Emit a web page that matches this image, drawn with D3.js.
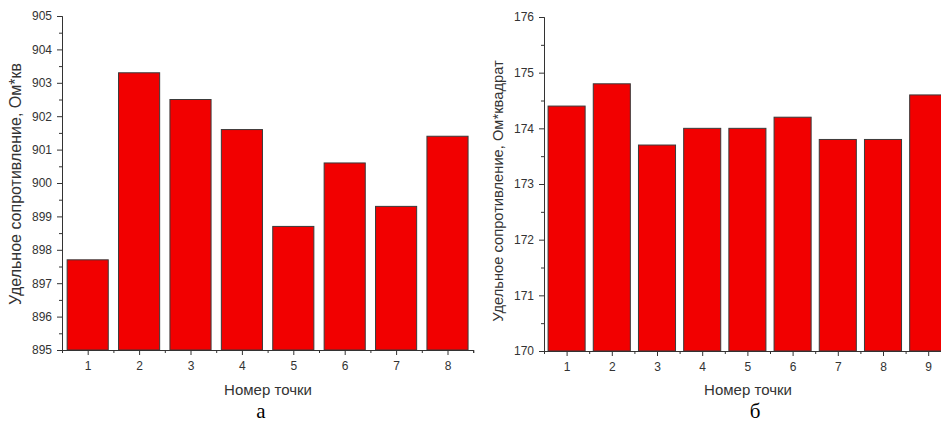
<!DOCTYPE html>
<html>
<head>
<meta charset="utf-8">
<script src="https://cdn.jsdelivr.net/npm/d3@7"></script>
<style>
  body { margin: 0; background: #fff; }
  svg { display: block; font-family: Arial, "Liberation Sans", sans-serif; }
  .axis text { fill: #333; font-size: 12px; }
  .axis path, .axis line { stroke: #333; }
</style>
</head>
<body>
<svg id="chart" width="941" height="423"></svg>
<script>
// panel a
var pointsA = [1, 2, 3, 4, 5, 6, 7, 8];
var valuesA = [897.7, 903.3, 902.5, 901.6, 898.7, 900.6, 899.3, 901.4];
var yTicksA = [895, 896, 897, 898, 899, 900, 901, 902, 903, 904, 905];

// panel b
var pointsB = [1, 2, 3, 4, 5, 6, 7, 8, 9];
var valuesB = [174.4, 174.8, 173.7, 174.0, 174.0, 174.2, 173.8, 173.8, 174.6];
var yTicksB = [170, 171, 172, 173, 174, 175, 176];

var xTitle = "Номер точки";

var svg = d3.select("#chart");

function drawPanel(o) {
    var g = svg.append("g");

    var x = d3.scaleLinear()
        .domain([0.5, o.points.length + 0.5])
        .range([o.left, o.left + o.step * o.points.length]);
    var y = d3.scaleLinear()
        .domain(d3.extent(o.yTicks))
        .range([o.bottom, o.top]);

    // bars
    g.selectAll("rect").data(o.values).enter().append("rect")
        .attr("x", (d, i) => x(o.points[i] - o.barW / 2))
        .attr("width", x(o.barW) - x(0))
        .attr("y", d => y(d))
        .attr("height", d => o.bottom - y(d))
        .attr("fill", "#f20000")
        .attr("stroke", "#3a3a3a")
        .attr("stroke-width", 1);

    // minor ticks at halves, drawn first
    var halfX = o.points.map(p => p + 0.5);
    g.append("g").attr("class", "axis")
        .attr("transform", "translate(0," + o.bottom + ")")
        .call(d3.axisBottom(x).tickValues(halfX).tickSize(3).tickFormat(() => ""));
    var halfY = o.yTicks.slice(0, -1).map(t => t + 0.5);
    g.append("g").attr("class", "axis")
        .attr("transform", "translate(" + o.left + ",0)")
        .call(d3.axisLeft(y).tickValues(halfY).tickSize(3).tickFormat(() => ""));

    // major ticks
    g.append("g").attr("class", "axis")
        .attr("transform", "translate(0," + o.bottom + ")")
        .call(d3.axisBottom(x).tickValues(o.points).tickSize(5).tickSizeOuter(0).tickPadding(6).tickFormat(d3.format("d")));
    g.append("g").attr("class", "axis")
        .attr("transform", "translate(" + o.left + ",0)")
        .call(d3.axisLeft(y).tickValues(o.yTicks).tickSize(5).tickSizeOuter(0).tickPadding(5).tickFormat(d3.format("d")));

    // axis titles
    g.append("text").text(xTitle)
        .attr("x", o.xTitleX).attr("y", 395)
        .attr("text-anchor", "middle")
        .attr("font-size", 15).attr("fill", "#333");
    g.append("text").text(o.yTitle)
        .attr("transform", "translate(" + o.yTitleX + "," + o.yTitleY + ") rotate(-90)")
        .attr("text-anchor", "middle")
        .attr("font-size", o.yTitleSize).attr("fill", "#333");

    // caption letter
    g.append("text").text(o.caption)
        .attr("x", o.captionX).attr("y", 418)
        .attr("text-anchor", "middle")
        .attr("font-family", "'Liberation Serif', 'DejaVu Serif', serif")
        .attr("font-size", 21).attr("fill", "#000");
}

drawPanel({
    points: pointsA, values: valuesA, yTicks: yTicksA,
    left: 62, step: 51.4, top: 16, bottom: 350, barW: 0.8,
    yTitle: "Удельное сопротивление, Ом*кв", yTitleX: 21, yTitleY: 184, yTitleSize: 16,
    xTitleX: 268, caption: "а", captionX: 261
});

drawPanel({
    points: pointsB, values: valuesB, yTicks: yTicksB,
    left: 544, step: 45.2, top: 17, bottom: 351, barW: 0.82,
    yTitle: "Удельное сопротивление, Ом*квадрат", yTitleX: 503, yTitleY: 191, yTitleSize: 14.7,
    xTitleX: 748, caption: "б", captionX: 755
});
</script>
</body>
</html>
